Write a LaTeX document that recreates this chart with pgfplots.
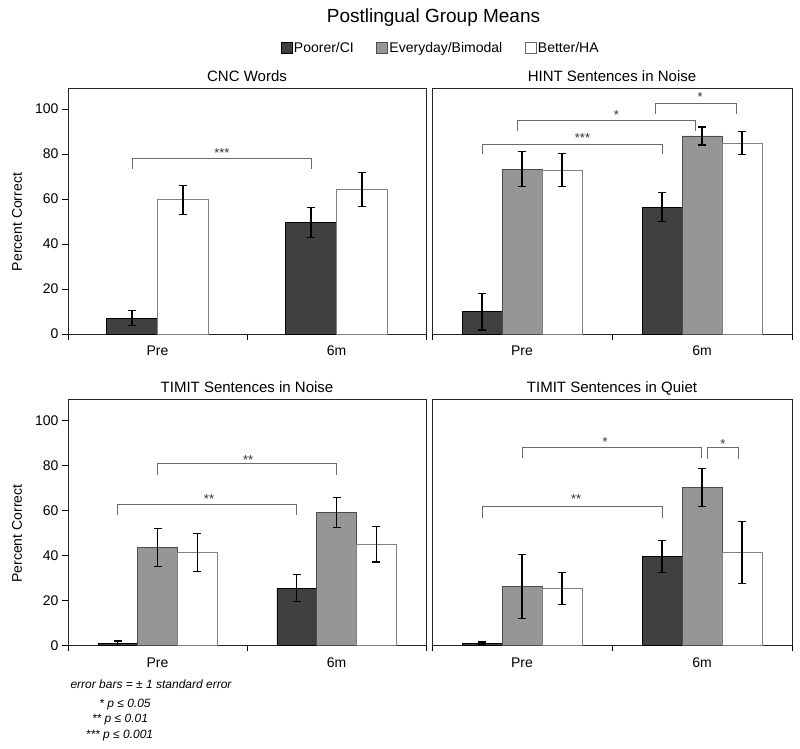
\documentclass[border=0pt]{standalone}
\usepackage{fontspec}
\setmainfont{Liberation Sans}
\usepackage{pgfplots}
\pgfplotsset{compat=1.18}
\definecolor{cDark}{HTML}{404040}
\definecolor{cGray}{HTML}{969696}
\definecolor{cEdge}{HTML}{808080}
\definecolor{cBr}{HTML}{6A6A6A}

\tikzset{
 bracket/.style={cBr, line width=0.8pt},
 star/.style={text=black!80, font=\fontsize{13}{15}\selectfont, inner sep=0pt},
}
\pgfplotsset{
 panel/.style={
  scale only axis, width=358pt, height=246pt,
  ymin=0, ymax=109.3, xmin=-0.5, xmax=1.5,
  xtick={0,1}, xticklabels={Pre,6m},
  minor xtick={-0.5,0.5,1.5},
  major x tick style={draw=none},
  minor x tick style={black,line width=0.8pt},
  minor tick length=6pt,
  tick align=outside, major tick length=6pt,
  ytick={0,20,...,100}, ytick pos=left, xtick pos=bottom,
  y tick style={black,line width=0.8pt},
  tick label style={font=\fontsize{14}{16}\selectfont},
  xticklabel style={yshift=-2.5pt},
  /pgf/number format/assume math mode=true,
  axis line style={black!85, line width=0.9pt},
  title style={font=\fontsize{15}{18}\selectfont, at={(0.5,1)}, anchor=base, yshift=0.5pt},
  ylabel style={font=\fontsize{14}{16}\selectfont, at={(axis description cs:-0.1425,0.455)}, anchor=center},
  clip=false,
 },
 barA/.style={ybar, bar shift=0pt, fill=cDark, draw=black, line width=0.6pt},
 barB/.style={ybar, bar shift=0pt, fill=cGray, draw=black!70, line width=0.6pt},
 barC/.style={ybar, bar shift=0pt, fill=white, draw=cEdge, line width=0.8pt},
 eb/.style={/pgfplots/error bars/.cd, y dir=both, y explicit,
   error bar style={black, line width=1.3pt},
   error mark options={rotate=90, mark size=4pt, black, line width=1.3pt}, /pgfplots/.cd},
}

\begin{document}
\begin{tikzpicture}[x=1pt,y=1pt]
\useasboundingbox (0,0) rectangle (800,749);

\node[font=\fontsize{19}{22}\selectfont] at (433.5,731) {Postlingual Group Means};

% ---------- CNC Words ----------
\begin{axis}[panel, at={(68pt,415pt)}, anchor=south west,
  title={CNC Words}, ylabel={Percent Correct},
  legend style={at={(axis description cs:1.0405,1.163)}, anchor=center, draw=none, fill=none,
    legend columns=3, font=\fontsize{14}{16}\selectfont,
    /tikz/every even column/.append style={column sep=21pt},
    nodes={inner xsep=1.5pt}},
  legend image code/.code={\draw[#1] (0pt,-5pt) rectangle (11pt,6pt);},
]
\addlegendimage{fill=cDark, draw=black, line width=0.6pt}
\addlegendentry{Poorer/CI}
\addlegendimage{fill=cGray, draw=black!70, line width=0.6pt}
\addlegendentry{Everyday/Bimodal}
\addlegendimage{fill=white, draw=black!60, line width=0.6pt}
\addlegendentry{Better/HA}
% Poorer/CI (Pre, 6m) at group offset -0.1429
\addplot[forget plot, barA, bar width=0.2857, eb] coordinates {(-0.1429,7.0) +- (0,3.3) (0.8571,49.6) +- (0,6.6)};
% Better/HA at group offset +0.1429
\addplot[forget plot, barC, bar width=0.2857, eb] coordinates {(0.1429,59.6) +- (0,6.5) (1.1429,64.3) +- (0,7.5)};
\draw[bracket] (axis cs:-0.1429,73.3) |- (axis cs:0.8571,78) -- (axis cs:0.8571,73.3);
\node[star] at (axis cs:0.36,80.4) {***};
\end{axis}

% ---------- HINT ----------
\begin{axis}[panel, at={(432pt,415pt)}, anchor=south west, width=360pt,
  title={HINT Sentences in Noise}, ytick=\empty]
\addplot[barA, bar width=0.2222, eb] coordinates {(-0.2222,9.9) +- (0,8.1) (0.7778,56.4) +- (0,6.5)};
\addplot[barB, bar width=0.2222, eb] coordinates {(0,73.3) +- (0,7.7) (1,88.0) +- (0,4.0)};
\addplot[barC, bar width=0.2222, eb] coordinates {(0.2222,72.9) +- (0,7.3) (1.2222,84.9) +- (0,5.2)};
\draw[bracket] (axis cs:-0.2222,80) |- (axis cs:0.7778,84.4) -- (axis cs:0.7778,80);
\node[star] at (axis cs:0.336,87.1) {***};
\draw[bracket] (axis cs:-0.025,90.1) |- (axis cs:0.965,94.8) -- (axis cs:0.965,90.1);
\node[star] at (axis cs:0.525,97.5) {*};
\draw[bracket] (axis cs:0.742,97.8) |- (axis cs:1.192,102.5) -- (axis cs:1.192,97.8);
\node[star] at (axis cs:0.99,105.4) {*};
\end{axis}

% ---------- TIMIT Noise ----------
\begin{axis}[panel, at={(68pt,103.5pt)}, anchor=south west,
  title={TIMIT Sentences in Noise}, ylabel={Percent Correct}]
\addplot[barA, bar width=0.2222, eb] coordinates {(-0.2222,1.0) +- (0,1.0) (0.7778,25.4) +- (0,6.0)};
\addplot[barB, bar width=0.2222, eb] coordinates {(0,43.5) +- (0,8.4) (1,59.2) +- (0,6.7)};
\addplot[barC, bar width=0.2222, eb] coordinates {(0.2222,41.4) +- (0,8.4) (1.2222,45.0) +- (0,7.9)};
\draw[bracket] (axis cs:0,75.8) |- (axis cs:1,80.7) -- (axis cs:1,75.8);
\node[star] at (axis cs:0.506,82.6) {**};
\draw[bracket] (axis cs:-0.2222,58) |- (axis cs:0.7778,62.7) -- (axis cs:0.7778,58);
\node[star] at (axis cs:0.288,65.1) {**};
\end{axis}

% ---------- TIMIT Quiet ----------
\begin{axis}[panel, at={(432pt,103.5pt)}, anchor=south west, width=360pt,
  title={TIMIT Sentences in Quiet}, ytick=\empty]
\addplot[barA, bar width=0.2222, eb] coordinates {(-0.2222,1.0) +- (0,0.5) (0.7778,39.6) +- (0,7.2)};
\addplot[barB, bar width=0.2222, eb] coordinates {(0,26.3) +- (0,14.2) (1,70.1) +- (0,8.4)};
\addplot[barC, bar width=0.2222, eb] coordinates {(0.2222,25.2) +- (0,7.1) (1.2222,41.4) +- (0,13.7)};
\draw[bracket] (axis cs:0,83.2) |- (axis cs:0.995,87.9) -- (axis cs:0.995,83.2);
\node[star] at (axis cs:0.462,90.5) {*};
\draw[bracket] (axis cs:1.029,83.0) |- (axis cs:1.204,87.9) -- (axis cs:1.204,83.0);
\node[star] at (axis cs:1.116,89.7) {*};
\draw[bracket] (axis cs:-0.2222,56.8) |- (axis cs:0.7778,61.6) -- (axis cs:0.7778,56.8);
\node[star] at (axis cs:0.301,65.1) {**};
\end{axis}

% ---------- notes ----------
\node[anchor=west, font=\fontsize{12}{14}\selectfont\itshape] at (67,65) {error bars = ± 1 standard error};
\node[font=\fontsize{12}{14}\selectfont\itshape] at (125,44) {* p ≤ 0.05};
\node[font=\fontsize{12}{14}\selectfont\itshape] at (120,29) {** p ≤ 0.01};
\node[font=\fontsize{12}{14}\selectfont\itshape] at (119.5,13) {*** p ≤ 0.001};
\end{tikzpicture}
\end{document}
